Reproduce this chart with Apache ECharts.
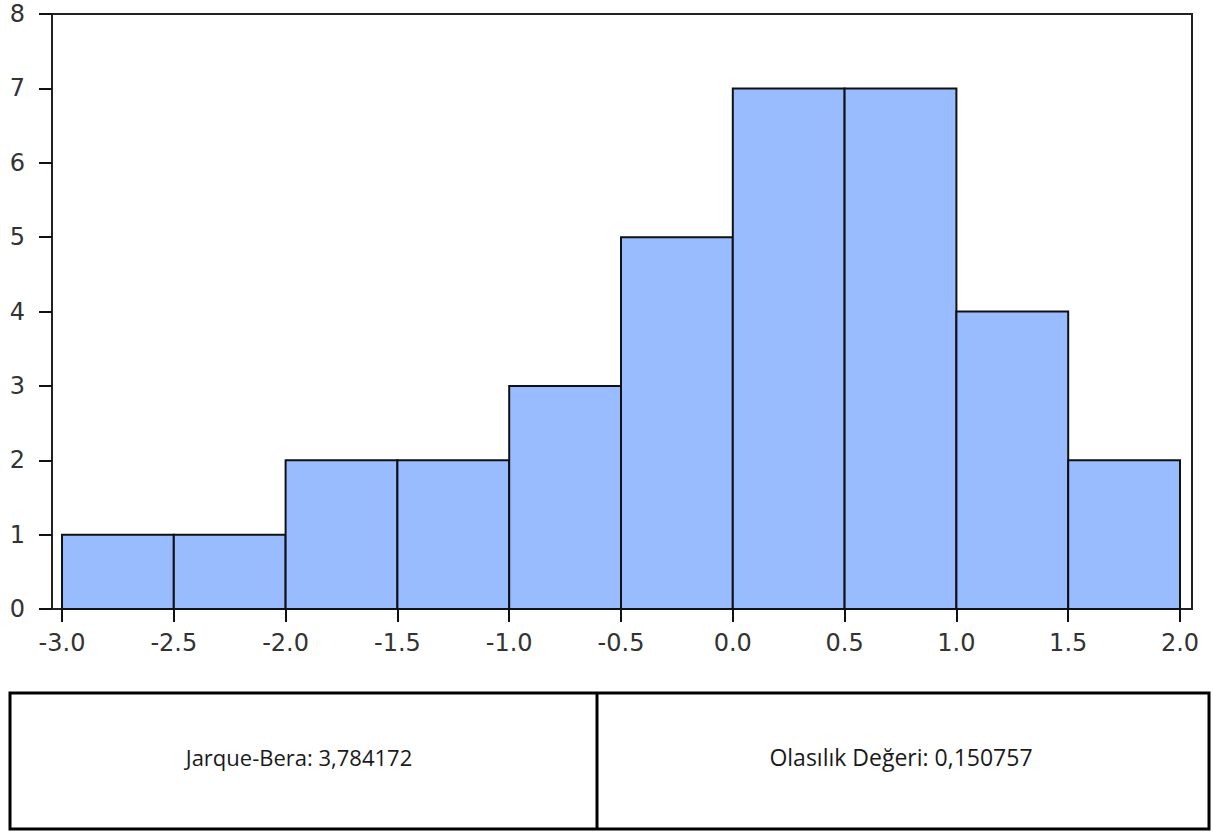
<!DOCTYPE html>
<html>
<head>
<meta charset="utf-8">
<script src="https://cdn.jsdelivr.net/npm/echarts@6/dist/echarts.min.js"></script>
<style>
html,body{margin:0;padding:0;background:#fff;}
#chart{width:1213px;height:832px;}
</style>
</head>
<body>
<div id="chart"></div>
<script>
// Histogram bins (left edge, right edge) and counts
const binStarts = [-3.0, -2.5, -2.0, -1.5, -1.0, -0.5, 0.0, 0.5, 1.0, 1.5];
const binEnds   = [-2.5, -2.0, -1.5, -1.0, -0.5, 0.0, 0.5, 1.0, 1.5, 2.0];
const counts    = [1, 1, 2, 2, 3, 5, 7, 7, 4, 2];
const xTickMin = -3.0, xTickMax = 2.0, xTickStep = 0.5;
const yTickMin = 0, yTickMax = 8, yTickStep = 1;
const statLeft = 'Jarque-Bera: 3,784172';
const statRight = 'Olasılık Değeri: 0,150757';

const data = binStarts.map((s, i) => [s, binEnds[i], counts[i]]);

const chart = echarts.init(document.getElementById('chart'), null, {renderer: 'svg'});
const labelFont = {fontFamily: 'DejaVu Sans', fontSize: 24, color: '#333'};

chart.setOption({
  animation: false,
  backgroundColor: '#fff',
  grid: [
    {left: 62, right: 33, top: 14, bottom: 223},
    {left: 52, right: 21, top: 14, bottom: 223, show: true, borderColor: '#222', borderWidth: 2, backgroundColor: 'transparent'}
  ],
  xAxis: [
    {
      type: 'value', gridIndex: 0, min: xTickMin, max: xTickMax, interval: xTickStep,
      axisLine: {show: false, onZero: false},
      axisTick: {show: true, inside: false, length: 13, lineStyle: {color: '#111', width: 2}},
      axisLabel: Object.assign({margin: 22, formatter: v => v.toFixed(1)}, labelFont),
      splitLine: {show: false}
    },
    {type: 'value', gridIndex: 1, show: false, min: 0, max: 1}
  ],
  yAxis: [
    {
      type: 'value', gridIndex: 0, min: yTickMin, max: yTickMax, interval: yTickStep, offset: 10,
      axisLine: {show: false, onZero: false},
      axisTick: {show: true, inside: false, length: 13, lineStyle: {color: '#111', width: 2}},
      axisLabel: Object.assign({margin: 27}, labelFont),
      splitLine: {show: false}
    },
    {type: 'value', gridIndex: 1, show: false, min: 0, max: 1}
  ],
  series: [{
    type: 'custom',
    xAxisIndex: 0, yAxisIndex: 0,
    data: data,
    renderItem: function (params, api) {
      const p0 = api.coord([api.value(0), 0]);
      const p1 = api.coord([api.value(1), api.value(2)]);
      return {
        type: 'rect',
        shape: {x: p0[0], y: p1[1], width: p1[0] - p0[0], height: p0[1] - p1[1]},
        style: {fill: '#99bbff', stroke: '#111', lineWidth: 2}
      };
    },
    encode: {x: [0, 1], y: 2}
  }],
  graphic: [
    {type: 'rect', shape: {x: 10, y: 693, width: 1199, height: 136}, style: {fill: '#fff', stroke: '#000', lineWidth: 3}},
    {type: 'line', shape: {x1: 597, y1: 693, x2: 597, y2: 829}, style: {stroke: '#000', lineWidth: 3}},
    {type: 'text', x: 299, y: 757, style: {text: statLeft, fontFamily: 'Open Sans', fontSize: 22, fill: '#1a1a1a', textAlign: 'center', textVerticalAlign: 'middle'}},
    {type: 'text', x: 901, y: 757, style: {text: statRight, fontFamily: 'Open Sans', fontSize: 23, fill: '#1a1a1a', textAlign: 'center', textVerticalAlign: 'middle'}}
  ]
});
</script>
</body>
</html>
